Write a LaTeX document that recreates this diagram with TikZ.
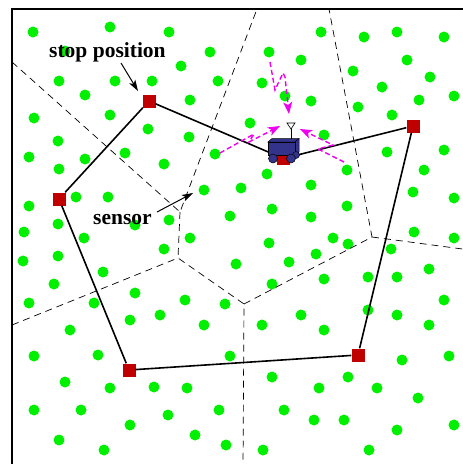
\documentclass[tikz,border=0pt]{standalone}
\usepackage{fontspec}
\setmainfont{Liberation Serif}
\usetikzlibrary{arrows.meta}
\definecolor{dotgreen}{RGB}{0,240,0}
\definecolor{stopred}{RGB}{192,0,0}
\definecolor{robotblue}{RGB}{51,51,140}
\definecolor{walkpink}{RGB}{240,0,240}
\begin{document}
\begin{tikzpicture}[x=1pt,y=-1pt,
  cell/.style={draw=black,line width=0.7pt,dash pattern=on 7pt off 5pt},
  route/.style={draw=black,line width=1.6pt},
  stopsq/.style={rectangle,fill=stopred,minimum size=13pt,inner sep=0pt},
  walk/.style={draw=walkpink,line width=1.4pt,dash pattern=on 5pt off 3pt,
    -{Stealth[length=12pt,width=9pt,inset=3pt]}},
  pointer/.style={draw=black,line width=1pt,-{Stealth[length=11pt,width=7pt,inset=2.5pt]}},
  lbl/.style={inner sep=0pt,font=\fontsize{21.5}{26}\selectfont\bfseries}]
\useasboundingbox (0,0) rectangle (463,464);

% sensor field
\foreach \x/\y in {33/32,110/27,169/32,210/52,181/66,65/51,59/81,115/81,152/81,218/81,
  85/95,190/100,34/118,110/115,148/129,189/137,58/141,215/154,29/157,85/159,125/153,
  164/164,59/169,204/190,76/197,108/197,29/206,230/216,58/224,169/220,135/225,24/232,
  321/32,364/37,397/32,444/37,269/52,301/60,407/60,353/71,430/77,262/83,382/87,285/96,
  311/101,419/100,454/96,358/107,392/115,250/123,324/135,387/152,444/150,267/174,
  347/170,424/170,241/188,311/185,413/192,454/198,272/209,347/206,311/217,414/232,
  84/238,190/238,164/249,23/261,58/256,103/272,54/284,29/303,94/303,135/293,185/300,
  225/304,130/320,160/315,204/325,70/330,34/356,98/355,230/356,65/382,110/388,154/387,
  187/388,34/410,81/410,168/415,219/410,130/425,195/435,59/440,104/450,226/445,
  269/243,333/238,348/244,454/238,391/249,316/254,289/262,236/264,272/284,324/279,
  368/277,397/277,429/269,444/300,368/310,397/315,301/315,262/325,324/330,429/325,
  402/360,449/356,272/377,348/377,319/388,377/388,418/398,284/410,314/420,344/420,
  397/430,454/425,263/450,369/450}
  \fill[dotgreen] (\x,\y) circle (5.5pt);

% frame
\draw[line width=2pt] (470,9) -- (12,9) -- (12,470);

% Voronoi cells
\coordinate (vA) at (12,62);
\coordinate (vB) at (257,9);
\coordinate (j1) at (180,212);
\coordinate (j2) at (178,258);
\coordinate (vC) at (12,325);
\coordinate (j3) at (244,304);
\coordinate (vD) at (243,470);
\coordinate (j4) at (372,237);
\coordinate (vE) at (329,9);
\coordinate (vF) at (470,250);
\draw[cell] (vA) -- (j1) -- (vB);
\draw[cell] (j1) -- (j2);
\draw[cell] (vC) -- (j2) -- (j3) -- (vD);
\draw[cell] (j3) -- (j4) -- (vE);
\draw[cell] (j4) -- (vF);

% stop positions
\node[stopsq] (s0) at (283.5,158.5) {};
\node[stopsq] (s1) at (149,101) {};
\node[stopsq] (s2) at (413,126) {};
\node[stopsq] (s3) at (358,355) {};
\node[stopsq] (s4) at (129,370) {};
\node[stopsq] (s5) at (59,199) {};
\draw[route] (s1) -- (s0) -- (s2) -- (s3) -- (s4) -- (s5) -- (s1);

% robot
\fill[stopred] (277,152) rectangle (290,165);
\draw[fill=robotblue,line width=0.5pt] (268,142) -- (272,138.5) -- (299,138.5) -- (295,142) -- cycle;
\draw[fill=robotblue,line width=0.5pt] (295,142) -- (299,138.5) -- (299,152) -- (295,155.5) -- cycle;
\draw[fill=robotblue,line width=0.5pt] (268,142) rectangle (295,155.5);
\draw[fill=robotblue,line width=0.5pt] (296,155) circle (3.5pt);
\draw[fill=robotblue,line width=0.5pt] (273,158.5) circle (4.5pt);
\draw[fill=robotblue,line width=0.5pt] (291,158.5) circle (4.5pt);
\draw[line width=0.6pt] (291,138.5) -- (291,128);
\draw[fill=white,line width=0.6pt] (287,123) -- (295,123) -- (291,129) -- cycle;

% random walks towards the robot
\coordinate (wa0) at (270,62);
\coordinate (wa1) at (275,90);
\coordinate (wa2) at (283,73);
\coordinate (wa3) at (285,77);
\coordinate (wa4) at (289,114);
\draw[walk] (wa0) -- (wa1) -- (wa2) -- (wa3) -- (wa4);
\coordinate (wb0) at (220,153);
\coordinate (wb1) at (254,134);
\coordinate (wb2) at (249,142);
\coordinate (wb3) at (280,126);
\draw[walk] (wb0) -- (wb1) -- (wb2) -- (wb3);
\coordinate (wc0) at (344,162);
\coordinate (wc1) at (318,149);
\coordinate (wc2) at (333,145);
\coordinate (wc3) at (300,129);
\draw[walk] (wc0) -- (wc1) -- (wc2) -- (wc3);

% labels
\node[lbl,anchor=base west] (stoplbl) at (49,57) {stop position};
\node[lbl,anchor=base west] (senslbl) at (93,224) {sensor};
\coordinate (stoptail) at (121,63);
\coordinate (stoptip) at (138,91);
\draw[pointer] (stoptail) -- (stoptip);
\coordinate (senstail) at (157,212);
\coordinate (senstip) at (193,193);
\draw[pointer] (senstail) -- (senstip);
\end{tikzpicture}
\end{document}
